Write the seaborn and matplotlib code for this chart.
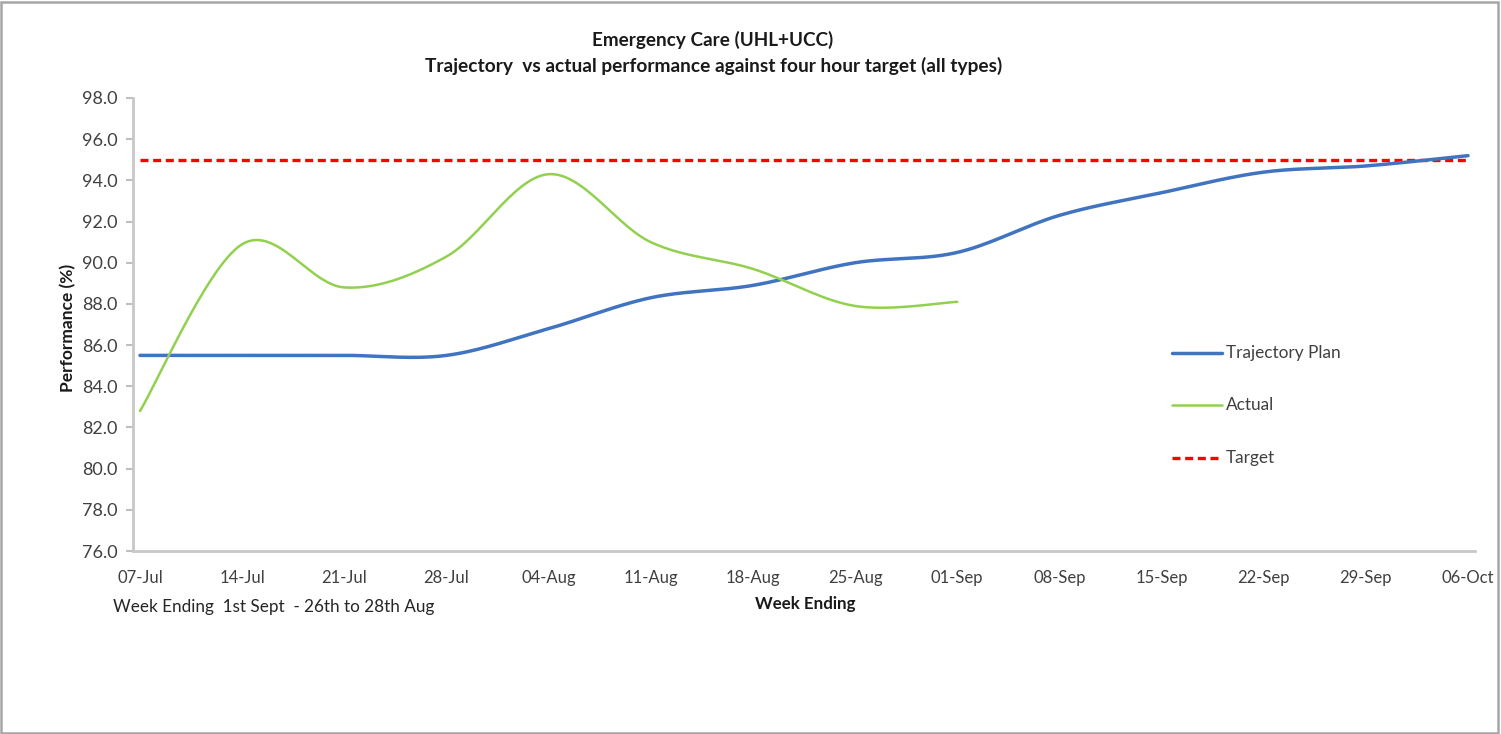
import numpy as np
import pandas as pd
import matplotlib
matplotlib.use("Agg")
import matplotlib.pyplot as plt
from matplotlib.patches import Rectangle
from matplotlib.lines import Line2D
import seaborn as sns

# Weekly figures, week ending
weeks = ["07-Jul", "14-Jul", "21-Jul", "28-Jul", "04-Aug", "11-Aug", "18-Aug",
         "25-Aug", "01-Sep", "08-Sep", "15-Sep", "22-Sep", "29-Sep", "06-Oct"]
trajectory_plan = [85.5, 85.5, 85.5, 85.5, 86.8, 88.3, 88.9, 90.0, 90.5,
                   92.3, 93.4, 94.4, 94.7, 95.2]
actual = [82.8, 90.9, 88.8, 90.3, 94.3, 91.0, 89.7, 87.9, 88.1]
target = 95.0

y_ticks = [76.0, 78.0, 80.0, 82.0, 84.0, 86.0, 88.0, 90.0, 92.0, 94.0, 96.0, 98.0]

BLUE = "#4174C0"
GREEN = "#92D050"
RED = "#FF0000"
TEXT = "#404040"


def smooth_path(ys, n=30):
    """Catmull-Rom style Bezier smoothing through every point (spreadsheet 'smoothed line')."""
    xs = np.arange(len(ys), dtype=float)
    pts = np.column_stack([xs, np.asarray(ys, dtype=float)])
    out = []
    for i in range(len(pts) - 1):
        p0 = pts[i - 1] if i > 0 else pts[i]
        p1 = pts[i]
        p2 = pts[i + 1]
        p3 = pts[i + 2] if i + 2 < len(pts) else pts[i + 1]
        c1 = p1 + (p2 - p0) / 6.0
        c2 = p2 - (p3 - p1) / 6.0
        t = np.linspace(0, 1, n, endpoint=(i == len(pts) - 2))[:, None]
        seg = ((1 - t) ** 3) * p1 + 3 * ((1 - t) ** 2) * t * c1 + 3 * (1 - t) * t ** 2 * c2 + t ** 3 * p2
        out.append(seg)
    path = np.vstack(out)
    return path[:, 0], path[:, 1]


sns.set_style("white")
plt.rcParams["font.family"] = ["Lato", "DejaVu Sans"]

W, H = 1501, 734
fig = plt.figure(figsize=(W / 100, H / 100), dpi=100)
ax = fig.add_axes([133 / W, 1 - 551 / H, (1475 - 133) / W, (551 - 98) / H])

tx, ty = smooth_path(trajectory_plan)
ax_x, ax_y = smooth_path(actual)
plan_df = pd.DataFrame({"x": tx, "y": ty})
act_df = pd.DataFrame({"x": ax_x, "y": ax_y})
tgt_df = pd.DataFrame({"x": np.arange(len(weeks)), "y": [target] * len(weeks)})

sns.lineplot(data=plan_df, x="x", y="y", ax=ax, color=BLUE, lw=2.5,
             sort=False, estimator=None, zorder=3)
sns.lineplot(data=act_df, x="x", y="y", ax=ax, color=GREEN, lw=1.8,
             sort=False, estimator=None, zorder=4)
sns.lineplot(data=tgt_df, x="x", y="y", ax=ax, color=RED, lw=2.4,
             sort=False, estimator=None, zorder=2, dashes=False)
ax.lines[-1].set_dashes((2.4, 1.4))

pad = 7 / 102.15
ax.set_xlim(-pad, len(weeks) - 1 + pad)
ax.set_ylim(76, 98)
ax.set_xticks(range(len(weeks)))
ax.set_xticklabels(weeks)
ax.set_yticks(y_ticks)
ax.set_yticklabels([f"{v:.1f}" for v in y_ticks])
ax.tick_params(axis="y", length=5, width=1.5, color="#BFBFBF", direction="out",
               left=True, labelsize=13, labelcolor=TEXT, pad=6)
ax.tick_params(axis="x", length=0, labelsize=12, labelcolor=TEXT, pad=14)

for side in ["top", "right"]:
    ax.spines[side].set_visible(False)
for side in ["left", "bottom"]:
    ax.spines[side].set_color("#C8C8C8")
    ax.spines[side].set_linewidth(2)

ax.set_xlabel("")
ax.set_ylabel("")

fig.text(68 / W, 1 - 328 / H, "Performance (%)", rotation=90, ha="center", va="center",
         fontsize=12.5, fontweight="bold", color="#1a1a1a")
fig.text(805 / W, 1 - 604 / H, "Week Ending", ha="center", va="center",
         fontsize=12.2, fontweight="bold", color="#1a1a1a")
fig.text(113 / W, 1 - 607 / H, "Week Ending  1st Sept  - 26th to 28th Aug", ha="left",
         va="center", fontsize=12.3, color="#262626")
fig.text(713 / W, 1 - 40 / H, "Emergency Care (UHL+UCC)", ha="center", va="center",
         fontsize=13.6, fontweight="bold", color="#1a1a1a")
fig.text(714 / W, 1 - 66 / H, "Trajectory  vs actual performance against four hour target (all types)",
         ha="center", va="center", fontsize=13.8, fontweight="bold", color="#1a1a1a")

# Legend drawn as handle/label pairs on the right of the plot area
legend_items = [("Trajectory Plan", BLUE, 2.5, "-", 353),
                ("Actual", GREEN, 1.8, "-", 405),
                ("Target", RED, 2.4, (0, (2.4, 1.4)), 458)]
for label, col, lw, ls, ypix in legend_items:
    yf = 1 - ypix / H
    fig.add_artist(Line2D([1172 / W, 1222 / W], [yf, yf], color=col, lw=lw, linestyle=ls))
    fig.text(1226 / W, yf, label, ha="left", va="center", fontsize=12.4, color=TEXT)

# Frame around the whole chart
fig.add_artist(Rectangle((0.5 / W, 1.5 / H), (W - 4) / W, (H - 3) / H, transform=fig.transFigure,
                         fill=False, edgecolor="#A6A6A6", lw=1.8))

fig.savefig("out.png", dpi=100)
